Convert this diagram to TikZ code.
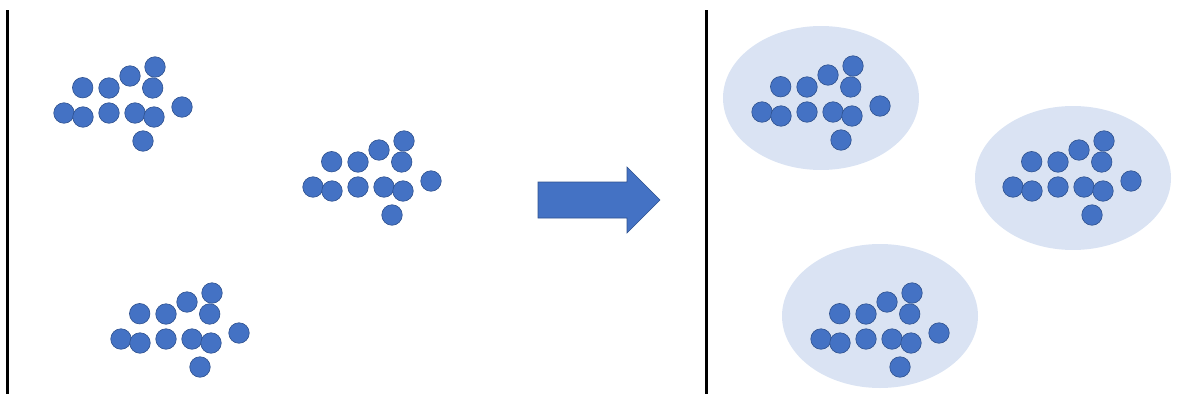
\documentclass[tikz,border=0pt]{standalone}
\usetikzlibrary{shapes.arrows}
\definecolor{dotblue}{HTML}{4472C4}
\definecolor{dotedge}{HTML}{2F528F}
\definecolor{halo}{HTML}{DAE3F3}
\tikzset{
  dot/.style={circle,fill=dotblue,draw=dotedge,line width=0.6pt,minimum size=20.5pt,inner sep=0pt},
  halo/.style={ellipse,fill=halo,draw=none,minimum width=196pt,minimum height=144pt,inner sep=0pt},
  divider/.style={line width=2.6pt,black},
  bigarrow/.style={fill=dotblue,draw=dotedge,line width=0.6pt}
}
\usetikzlibrary{shapes.geometric}
\newcommand{\mycluster}[3]{%
  \begin{scope}[shift={(#1,#2)}]
    \foreach \px/\py [count=\i] in {155/67,82.7/87.7,109/88,130/76,152.7/88,64/113,83/117,109/113,135/113,154/117,182/107,143/141}
      \node[dot] (#3d\i) at (\px-155,\py-67) {};
  \end{scope}}
\begin{document}
\begin{tikzpicture}[x=1pt,y=-1pt]
\useasboundingbox (0,0) rectangle (1179,394);
\draw[divider] (7.5,10) coordinate (l1) -- (7.5,394) coordinate (l2);
\draw[divider] (706.5,10) coordinate (r1) -- (706.5,394) coordinate (r2);
% halos
\node[halo] (h1) at (821,98) {};
\node[halo] (h2) at (1073,178) {};
\node[halo] (h3) at (880,316) {};
% clusters
\mycluster{155}{67}{a}
\mycluster{404}{141}{b}
\mycluster{212}{293}{c}
\mycluster{853}{66}{p}
\mycluster{1104}{141}{q}
\mycluster{912}{293}{r}
% arrow
\draw[bigarrow] (538,182) -- (627,182) -- (627,167) -- (660,200) -- (627,233) -- (627,218) -- (538,218) -- cycle;
\end{tikzpicture}
\end{document}
